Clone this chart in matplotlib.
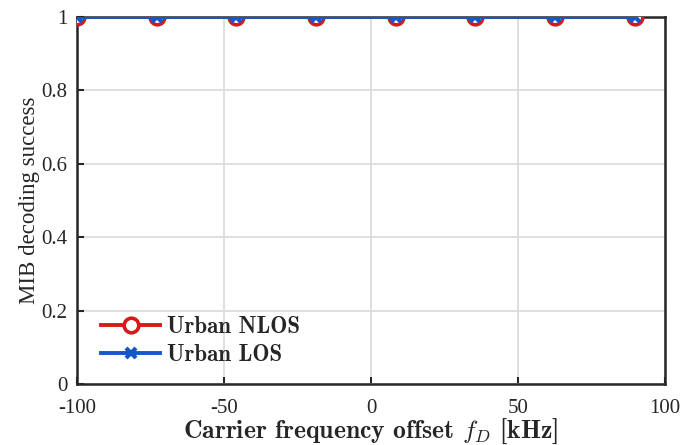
import numpy as np
import matplotlib
matplotlib.use("Agg")
import matplotlib.pyplot as plt

# CFO sweep points [kHz] and MIB decoding success rate
cfo_khz = [-100, -72.9, -45.8, -18.7, 8.4, 35.5, 62.6, 89.7]
success_nlos = [1, 1, 1, 1, 1, 1, 1, 1]
success_los = [1, 1, 1, 1, 1, 1, 1, 1]

x_ticks = [-100, -50, 0, 50, 100]
y_ticks = [0, 0.2, 0.4, 0.6, 0.8, 1]

plt.rcParams['mathtext.fontset'] = 'cm'
plt.rcParams['axes.unicode_minus'] = False

fig = plt.figure(figsize=(6.97, 4.45), dpi=100)
ax = fig.add_axes([77 / 697, 61 / 445, 588 / 697, 367 / 445])

ax.plot(cfo_khz, success_nlos, color='#d7191c', lw=2.8, marker='o', ms=10.5,
        mfc='white', mew=2.6, mec='#d7191c', label='Urban NLOS', zorder=3)
ax.plot(cfo_khz, success_los, color='#1358c6', lw=2.8, marker='x', ms=6.5,
        mew=3, label='Urban LOS', zorder=4)

ax.set_xlim(-100, 100)
ax.set_ylim(0, 1)
ax.set_xticks(x_ticks)
ax.set_yticks(y_ticks)
ax.set_xticklabels([str(t) for t in x_ticks], family='Liberation Serif', fontsize=15)
ax.set_yticklabels(['0', '0.2', '0.4', '0.6', '0.8', '1'], family='Liberation Serif', fontsize=15)
ax.tick_params(direction='in', length=5, width=1.5, color='#262626', labelcolor='#262626')
ax.tick_params(axis='x', pad=11)
ax.tick_params(axis='y', pad=7)
ax.grid(True, color='#dcdcdc', lw=1.3)
ax.set_axisbelow(True)
for s in ax.spines.values():
    s.set_linewidth(1.8)
    s.set_color('#262626')

ax.set_xlabel(r'Carrier frequency offset $f_D$ [kHz]', family='cmb10', fontsize=18.5,
              color='#262626')
ax.xaxis.set_label_coords(0.5, -0.09)
ax.set_ylabel('MIB decoding success', family='Liberation Serif', fontsize=16.5,
              color='#262626')
ax.yaxis.set_label_coords(-0.063, 0.5)

leg = ax.legend(loc='lower left', frameon=False, prop={'family': 'cmb10', 'size': 16.5},
                handlelength=2.6, handletextpad=0.3, borderaxespad=0.0,
                labelspacing=0.25, bbox_to_anchor=(0.025, 0.025))
for t in leg.get_texts():
    t.set_color('#262626')

fig.savefig('out.png', dpi=100)
